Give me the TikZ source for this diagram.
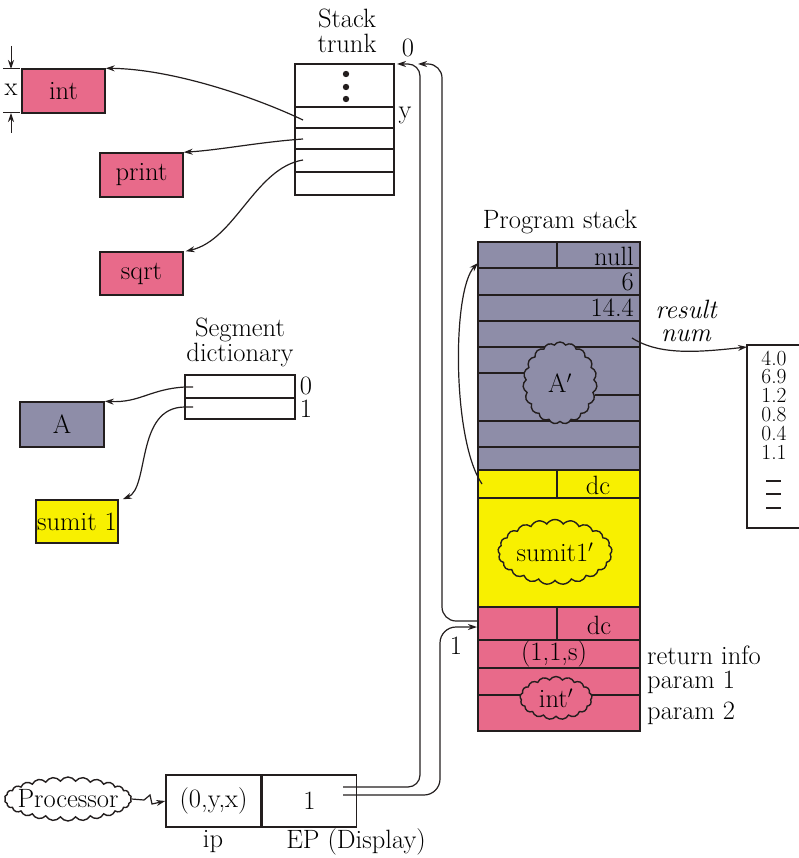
\documentclass[tikz,border=0pt]{standalone}
\usetikzlibrary{arrows.meta, positioning, shapes.symbols, calc}
\definecolor{segpink}{RGB}{232,106,138}
\definecolor{seggray}{RGB}{142,141,168}
\definecolor{segyellow}{RGB}{248,240,0}
\definecolor{ink}{RGB}{35,30,30}

\tikzset{
  seg/.style={draw=ink, line width=1.5pt, inner sep=0pt},
  ptr/.style={draw=ink, line width=1.2pt, -{Stealth[length=9pt,width=6pt]}},
  blob/.style={cloud, cloud ignores aspect, cloud puffs=19, cloud puff arc=115, draw=ink, line width=1.4pt, inner sep=0pt},
  rule/.style={draw=ink, line width=1.4pt},
  tag/.style={inner sep=1pt},
}

\begin{document}
\begin{tikzpicture}[x=1pt, y=-1pt, font=\fontsize{26.5}{25}\selectfont]
  \useasboundingbox (0,0) rectangle (799,858);

  % Code segments
  \node[seg, fill=segpink, minimum width=83pt, minimum height=44pt] (int) at (63.5,91) {int};
  \node[seg, fill=segpink, minimum width=83pt, minimum height=44pt] (print) at (141.5,175) {print};
  \node[seg, fill=segpink, minimum width=83pt, minimum height=43pt] (sqrt) at (141.5,273.5) {sqrt};
  \node[seg, fill=seggray, minimum width=84pt, minimum height=45pt] (A) at (62,424.5) {A};
  \node[seg, fill=segyellow, minimum width=82pt, minimum height=43pt] (sumit) at (77,521.5) {sumit 1};

  % Height marker
  \draw[rule, line width=1pt] (3,69) -- (20,69);
  \draw[rule, line width=1pt] (3,113) -- (20,113);
  \draw[ptr, line width=1pt] (11,46) -- (11,69);
  \draw[ptr, line width=1pt] (11,133) -- (11,113);
  \node[tag] (xlab) at (11,90) {x};

  % Stack trunk
  \node[align=center] (trunklab) at (347,31) {Stack\\trunk};
  \draw[rule, line width=1.5pt] (295,64) rectangle (394,195);
  \foreach \yy in {107,128,149,172}
    \draw[rule] (295,\yy) -- (394,\yy);
  \foreach \yy in {74,87,99}
    \fill[ink] (346,\yy) circle (3.2pt);
  \node[tag] (zero) at (408,48) {0};
  \node[tag] (ylab) at (405,115) {y};
  \coordinate (trunktop) at (397,64);
  \coordinate (trunkin) at (418,64);
  \coordinate (t1) at (303,120);
  \coordinate (t2) at (303,139);
  \coordinate (t3) at (303,160);

  \draw[ptr] (t1) .. controls (250,95) and (170,69) .. (int.north east);
  \draw[ptr] (t2) .. controls (260,142) and (220,150) .. (print.north east);
  \draw[ptr] (t3) .. controls (255,168) and (235,240) .. ($(sqrt.north east)+(2,0)$);

  % Segment dictionary
  \node[align=center] (dictlab) at (240,342) {Segment\\dictionary};
  \draw[rule, line width=1.5pt] (185,375) rectangle (295,419);
  \draw[rule] (185,398) -- (295,398);
  \node[tag] (d0) at (306,386) {0};
  \node[tag] (d1) at (306,409) {1};
  \coordinate (s0) at (193,387);
  \coordinate (s1) at (193,407);
  \draw[ptr] (s0) -- (185,387) .. controls (150,389) and (140,403) .. (A.north east);
  \draw[ptr] (s1) -- (185,407) .. controls (135,407) and (150,488) .. ($(sumit.north east)+(4,0)$);

  % Program stack: A record
  \node (pslab) at (560,222) {Program stack};
  \fill[seggray] (478,242) rectangle (640,470);
  \draw[rule, line width=1.6pt] (478,242) rectangle (640,470);
  \foreach \yy in {268,295,321,347,421,447}
    \draw[rule] (478,\yy) -- (640,\yy);
  \draw[rule] (478,373) -- (525,373);
  \draw[rule] (595,395) -- (640,395);
  \draw[rule] (557,242) -- (557,268);
  \node[blob, fill=seggray, minimum width=74pt, minimum height=82pt] (Apblob) at (560,383) {};
  \node (Ap) at (Apblob) {A$'$};
  \node[tag, anchor=east] (null) at (635,256) {null};
  \node[tag, anchor=east] (six) at (635,282) {6};
  \node[tag, anchor=east] (res) at (635,308) {14.4};
  \node[tag, align=center, font=\fontsize{26.5}{23}\selectfont\itshape] (resnum) at (686,321) {result\\num};
  \coordinate (numptr) at (632,338);

  % Program stack: sumit1 record
  \fill[segyellow] (478,470) rectangle (640,607);
  \draw[rule, line width=1.8pt] (478,470) rectangle (640,607);
  \draw[rule] (478,498) -- (640,498);
  \draw[rule] (557,470) -- (557,498);
  \node[tag] (dc1) at (598,485) {dc};
  \node[blob, cloud puffs=21, fill=segyellow, minimum width=114pt, minimum height=65pt] (sumitblob) at (555,552) {};
  \node (sumitp) at (sumitblob) {sumit1$'$};
  \coordinate (yelin) at (482,484);

  % Program stack: int record
  \fill[segpink] (478,607) rectangle (640,731);
  \draw[rule, line width=1.8pt] (478,607) rectangle (640,731);
  \foreach \yy in {640,668,695}
    \draw[rule] (478,\yy) -- (640,\yy);
  \draw[rule] (557,607) -- (557,640);
  \node[tag] (dc2) at (599,625) {dc};
  \node[tag] (ret) at (554,654) {(1,1,s)};
  \node[blob, cloud puffs=17, fill=segpink, minimum width=72pt, minimum height=43pt] (intblob) at (556,698) {};
  \node (intp) at (intblob) {int$'$};
  \node[tag, anchor=west] (retlab) at (646,655) {return info};
  \node[tag, anchor=west] (p1lab) at (646,682) {param 1};
  \node[tag, anchor=west] (p2lab) at (646,713) {param 2};
  \coordinate (pkin) at (477,627);
  \coordinate (pkout) at (478,621);
  \coordinate (pstop) at (478,263);

  \draw[ptr] (yelin) .. controls (452,440) and (452,290) .. (pstop);

  % Result vector
  \draw[rule, line width=1.5pt] (810,345) -- (747,345) -- (747,528) -- (810,528);
  \coordinate (vec) at (747,347);
  \node[align=center, inner sep=0pt, font=\fontsize{21.5}{18.8}\selectfont] (vals) at (774,405) {4.0\\6.9\\1.2\\0.8\\0.4\\1.1};
  \foreach \yy in {481,494,508}
    \draw[rule, line width=1.2pt] (766,\yy) -- (781,\yy);
  \draw[ptr] (numptr) .. controls (660,356) and (700,352) .. (vec);

  % Processor and registers
  \node[blob, cloud puffs=26, minimum width=127pt, minimum height=44pt] (procblob) at (68,799) {};
  \node (proc) at (procblob) {Processor};
  \node[seg, minimum width=95pt, minimum height=52pt] (ip) at (213.5,801) {(0,y,x)};
  \node[seg, minimum width=94pt, minimum height=52pt, right=0pt of ip] (EP) {1};
  \node (iplab) at (213,842) {ip};
  \node (eplab) at (356,842) {EP (Display)};
  \draw[ptr] (procblob.east) -- (144,800) -- (150,795) -- (152,804) -- (ip.west);

  \coordinate (ep0) at (343,787);
  \coordinate (ep1) at (343,795);
  \draw[ptr, rounded corners=12pt] (ep0) -- (420,787) -- (420,64) -- (trunktop);
  \draw[ptr, rounded corners=16pt] (ep1) -- (440,795) -- (440,627) -- (pkin);
  \draw[ptr, rounded corners=14pt] (pkout) -- (442,621) -- (442,64) -- (trunkin);
  \node[tag] (one) at (456,646) {1};
\end{tikzpicture}
\end{document}
